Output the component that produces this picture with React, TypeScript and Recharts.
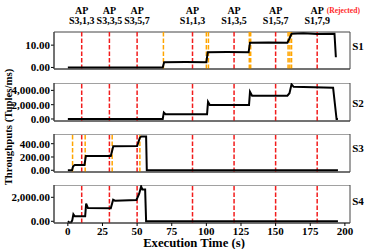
import { LineChart, Line, XAxis, YAxis, ReferenceLine, ReferenceArea } from "recharts"

const serif = "'Liberation Serif', 'DejaVu Serif', serif"

const timeTicks = [0, 25, 50, 75, 100, 125, 150, 175, 200]
const timeDomain = [-10, 203.7]

// adaptation points (red) and their names
const apTimes = [10, 30, 50, 90, 120, 150, 180]
const apNames = ["S3,1,3", "S3,3,5", "S3,5,7", "S1,1,3", "S1,3,5", "S1,5,7", "S1,7,9"]
const rejectedAps = ["S1,7,9"]

// rescale moments (orange)
const s1Rescales = [69, 100, 101.5, 131, 132, 159, 160.3, 161.5]
const s3Rescales = [3.4, 12.5, 32, 52]

// y ticks per stage
const s1Ticks = [0, 10]
const s2Ticks = [0, 2000, 4000]
const s3Ticks = [0, 200, 400]
const s4Ticks = [0, 2000]

// [time (s), throughput (tuples/ms)]
const s1Series = [
  [0, 0], [68.5, 0], [69.5, 2.3], [85, 2.4], [100, 2.3], [101, 6.8], [115, 6.9], [130.5, 6.8],
  [131.5, 11.1], [145, 11.2], [158.5, 11.1], [160, 13], [161.5, 15.1], [170, 15.3], [180, 15.0],
  [192.5, 15.1], [193.5, 4.6],
]
const s2Series = [
  [0, 0], [68.5, 0], [69.3, 900], [70.5, 660], [100.5, 660], [101.2, 2400], [102.5, 1950],
  [130.8, 1950], [131.5, 3800], [133, 3250], [158.5, 3250], [160, 3600], [161.5, 4850],
  [163, 4500], [191.5, 4380], [194, 0], [195, 0],
]
const s3Series = [
  [0, 0], [3, 0], [3.8, 60], [5, 80], [12, 80], [13, 215], [31, 215], [32.8, 360], [50, 365],
  [52, 490], [53, 510], [56.5, 510], [57, 0], [195, 0],
]
const s4Series = [
  [0, 0], [1, -100], [2.5, -80], [3.2, 100], [4, 580], [5, 420], [12.5, 420], [13.2, 1470],
  [14.5, 1100], [31, 1080], [32.7, 1800], [34, 1720], [49.5, 1780], [51.5, 2300], [52.9, 2900],
  [53.8, 2650], [55.8, 2650], [56.5, 0], [195, 0],
]

const fmt = (v: number) =>
  v.toLocaleString("en-US", { minimumFractionDigits: 2, maximumFractionDigits: 2 })

const tickStyle = { fontSize: 11, fontWeight: "bold", fill: "#000", fontFamily: serif }
const frame = "#444"

// y tick (mark + label) hung on a reference line so every tick is kept
const yTickLabel = (v: number) => (props: any) => {
  const { x, y } = props.viewBox
  return (
    <g>
      <line x1={x - 3} x2={x} y1={y} y2={y} stroke="#000" />
      <text x={x - 4} y={y} dy="0.36em" textAnchor="end" {...tickStyle}>
        {fmt(v)}
      </text>
    </g>
  )
}

const apLabel = (name: string) => (props: any) => {
  const { x, y } = props.viewBox
  return (
    <g fontFamily={serif} fontWeight="bold" fill="#000">
      <text x={x} y={y - 18.5} textAnchor="middle" fontSize={10}>AP</text>
      <text x={x} y={y - 8.5} textAnchor="middle" fontSize={10}>{name}</text>
      {rejectedAps.includes(name) && (
        <text x={x + 9.5} y={y - 19.5} fontSize={7.6} fill="#ff2a2a">(Rejected)</text>
      )}
    </g>
  )
}

interface PanelProps {
  series: number[][]
  domain: number[]
  ticks: number[]
  top: number
  marginTop: number
  plotHeight: number
  orange?: number[]
  showTime?: boolean
  annotate?: boolean
}

function Panel({ series, domain, ticks, top, marginTop, plotHeight, orange = [], showTime, annotate }: PanelProps) {
  const data = series.map(([t, v]) => ({ t, v }))
  const axisH = showTime ? 18 : 5
  return (
    <div style={{ position: "absolute", left: 0, top }}>
      <LineChart
        width={374}
        height={marginTop + plotHeight + axisH}
        data={data}
        margin={{ top: marginTop, right: 24, left: 0, bottom: 0 }}
      >
        <XAxis
          dataKey="t"
          type="number"
          domain={timeDomain}
          ticks={timeTicks}
          interval={0}
          allowDataOverflow
          height={axisH}
          tickSize={3}
          tickMargin={1}
          tick={showTime ? tickStyle : false}
          stroke={frame}
          tickLine={{ stroke: "#000" }}
        />
        <YAxis
          type="number"
          domain={domain}
          ticks={ticks}
          interval={0}
          width={54}
          tick={false}
          tickLine={false}
          stroke={frame}
        />
        <ReferenceArea
          x1={timeDomain[0]}
          x2={timeDomain[1]}
          y1={domain[0]}
          y2={domain[1]}
          fill="none"
          fillOpacity={0}
          stroke={frame}
          strokeWidth={1}
        />
        {ticks.map((v) => (
          <ReferenceLine key={`y-${v}`} y={v} stroke="none" ifOverflow="visible" label={yTickLabel(v)} />
        ))}
        {orange.map((t) => (
          <ReferenceLine key={`o-${t}`} x={t} stroke="#ffa500" strokeWidth={1.5} strokeDasharray="4.5 2" />
        ))}
        {apTimes.map((t, i) => (
          <ReferenceLine
            key={`r-${t}`}
            x={t}
            stroke="#f21c1c"
            strokeWidth={1.5}
            strokeDasharray="4.5 2"
            label={annotate ? apLabel(apNames[i]) : undefined}
          />
        ))}
        <Line
          dataKey="v"
          type="linear"
          stroke="#000"
          strokeWidth={2}
          dot={false}
          isAnimationActive={false}
        />
      </LineChart>
    </div>
  )
}

export default function App() {
  return (
    <div style={{ position: "absolute", left: 0, top: 0, width: 374, height: 249, background: "#fff" }}>
      <svg
        width={374}
        height={249}
        style={{ position: "absolute", left: 0, top: 0, pointerEvents: "none" }}
        fontFamily={serif}
        fontWeight="bold"
      >
        <text x={358} y={50} fontSize={11} textAnchor="middle">S1</text>
        <text x={358} y={106.5} fontSize={11} textAnchor="middle">S2</text>
        <text x={358} y={152} fontSize={11} textAnchor="middle">S3</text>
        <text x={358} y={204.5} fontSize={11} textAnchor="middle">S4</text>
        <text x={194} y={247} fontSize={12.7} textAnchor="middle">Execution Time (s)</text>
        <text
          transform="translate(12,127) rotate(-90)"
          fontSize={10.8}
          textAnchor="middle"
        >
          Throughputs (Tuples/ms)
        </text>
      </svg>
      <Panel series={s1Series} domain={[-0.7, 15.9]} ticks={s1Ticks} top={0} marginTop={32} plotHeight={37} orange={s1Rescales} annotate />
      <Panel series={s2Series} domain={[-280, 5030]} ticks={s2Ticks} top={83} marginTop={0} plotHeight={38} />
      <Panel series={s3Series} domain={[-26, 546]} ticks={s3Ticks} top={134} marginTop={0} plotHeight={38} orange={s3Rescales} />
      <Panel series={s4Series} domain={[-142, 3025]} ticks={s4Ticks} top={185} marginTop={0} plotHeight={38} showTime />
    </div>
  )
}
